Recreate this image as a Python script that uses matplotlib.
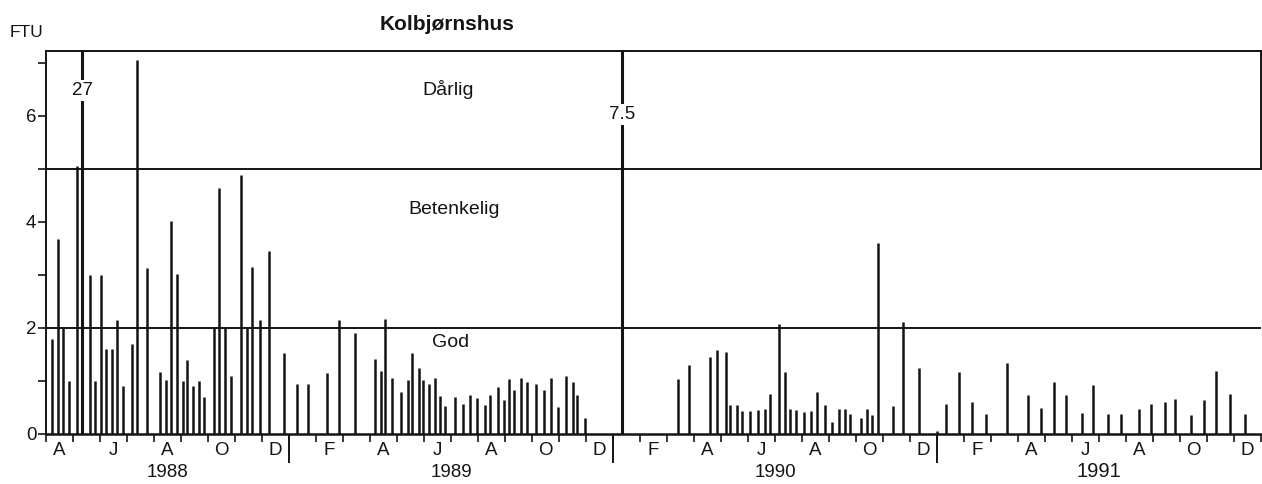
import numpy as np
import matplotlib
matplotlib.use("Agg")
import matplotlib.pyplot as plt

plt.rcParams['font.family'] = ['Liberation Sans', 'DejaVu Sans']

# sampling position = months since 1 Jan of that year (fractional), value in FTU
years = [1988, 1989, 1990, 1991]

pos_1988 = [3.22, 3.46, 3.62, 3.84, 4.16, 4.34, 4.63, 4.82, 5.04, 5.23, 5.43, 5.64,
            5.85, 6.18, 6.37, 6.75, 7.23, 7.45, 7.62, 7.84, 8.06, 8.24, 8.44, 8.66,
            8.86, 9.24, 9.41, 9.64, 9.87, 10.21, 10.45, 10.64, 10.92, 11.26, 11.80]
ftu_1988 = [1.8, 3.67, 2.0, 1.0, 5.05, 27, 3.0, 1.0, 3.0, 1.6, 1.6, 2.15,
            0.9, 1.7, 7.05, 3.12, 1.16, 1.02, 4.01, 3.02, 1.0, 1.4, 0.9, 1.0,
            0.7, 2.0, 4.63, 2.0, 1.1, 4.88, 2.0, 3.14, 2.15, 3.45, 1.52]

pos_1989 = [0.30, 0.69, 1.39, 1.84, 2.46, 3.17, 3.40, 3.57, 3.81, 4.16, 4.39, 4.56,
            4.80, 4.98, 5.19, 5.40, 5.61, 5.79, 6.15, 6.43, 6.70, 6.95, 7.26, 7.46,
            7.75, 7.95, 8.14, 8.35, 8.61, 8.81, 9.16, 9.43, 9.72, 9.98, 10.27, 10.50,
            10.68, 10.95]
ftu_1989 = [0.94, 0.95, 1.15, 2.15, 1.9, 1.42, 1.18, 2.16, 1.05, 0.8, 1.02, 1.52,
            1.24, 1.02, 0.95, 1.05, 0.72, 0.53, 0.7, 0.56, 0.74, 0.67, 0.55, 0.73,
            0.88, 0.64, 1.03, 0.83, 1.06, 0.98, 0.95, 0.83, 1.06, 0.51, 1.1, 0.98,
            0.74, 0.31]

pos_1990 = [0.32, 2.40, 2.82, 3.59, 3.87, 4.17, 4.35, 4.59, 4.77, 5.09, 5.36, 5.64,
            5.82, 6.15, 6.36, 6.55, 6.76, 7.06, 7.32, 7.57, 7.84, 8.10, 8.36, 8.61,
            8.79, 9.17, 9.39, 9.60, 9.82, 10.37, 10.74, 11.34, 11.99]
ftu_1990 = [7.5, 1.03, 1.31, 1.45, 1.58, 1.54, 0.55, 0.54, 0.43, 0.43, 0.45, 0.47,
            0.76, 2.07, 1.17, 0.48, 0.45, 0.41, 0.43, 0.8, 0.54, 0.22, 0.47, 0.48,
            0.38, 0.31, 0.48, 0.35, 3.6, 0.53, 2.12, 1.24, 0.05]

pos_1991 = [0.32, 0.82, 1.30, 1.80, 2.59, 3.37, 3.85, 4.33, 4.76, 5.37, 5.78, 6.34,
            6.80, 7.48, 7.92, 8.43, 8.82, 9.39, 9.89, 10.35, 10.85, 11.40]
ftu_1991 = [0.57, 1.17, 0.6, 0.38, 1.34, 0.73, 0.49, 0.98, 0.74, 0.39, 0.92, 0.38,
            0.38, 0.47, 0.56, 0.6, 0.66, 0.35, 0.64, 1.18, 0.75, 0.38]

month_letters = ['J', 'F', 'M', 'A', 'M', 'J', 'J', 'A', 'S', 'O', 'N', 'D']
labelled_months = [2, 4, 6, 8, 10, 12]
limits = [2, 5]
zone_names = ['God', 'Betenkelig', 'Dårlig']

ink = '#141414'

positions = [pos_1988, pos_1989, pos_1990, pos_1991]
values = [ftu_1988, ftu_1989, ftu_1990, ftu_1991]
x = np.concatenate([np.array(p) + 12 * (yr - years[0]) for p, yr in zip(positions, years)])
v = np.concatenate([np.array(f, dtype=float) for f in values])

W, H = 1262, 484
fig = plt.figure(figsize=(W / 100, H / 100), dpi=100)
ax = fig.add_axes([46 / W, 1 - 434 / H, (1261 - 46) / W, (434 - 51) / H])
xmin, xmax, ytop = 3, 48, 7.22
ax.set_xlim(xmin, xmax)
ax.set_ylim(0, ytop)

over = v > ytop
ax.vlines(x[~over], 0, v[~over], color=ink, lw=1.8)
ax.vlines(x[over], 0, v[over], color=ink, lw=2.2)
for lim in limits:
    ax.axhline(lim, color=ink, lw=1.4)

# values above the axis are written on the bar
for xi, vi in zip(x[over], v[over]):
    ax.text(xi, ytop - 0.75 - (0.45 if vi < 10 else 0), f'{vi:g}', ha='center', va='center',
            fontsize=13.5, color=ink,
            bbox=dict(facecolor='white', edgecolor='none', pad=1.5))

# zone labels
ax.text(18.0, 1.73, zone_names[0], ha='center', va='center', fontsize=14, color=ink)
ax.text(18.1, 4.23, zone_names[1], ha='center', va='center', fontsize=14, color=ink)
ax.text(17.9, 6.5, zone_names[2], ha='center', va='center', fontsize=14, color=ink)

for s in ['left', 'top', 'bottom', 'right']:
    ax.spines[s].set_color(ink)
    ax.spines[s].set_linewidth(1.4)
ax.spines['bottom'].set_linewidth(1.8)
ax.spines['right'].set_bounds(limits[1], ytop)

ax.set_yticks(range(0, 8))
ax.set_yticklabels([str(t) if t % 2 == 0 else '' for t in range(0, 8)])
ax.tick_params(axis='y', direction='out', length=6, width=1.2, labelsize=13.5, pad=1, colors=ink)

ax.set_xticks([])
ax.set_xticks(np.arange(xmin, xmax + 1), minor=True)
ax.tick_params(axis='x', which='minor', direction='out', length=6, width=1.2, colors=ink)

trans = ax.get_xaxis_transform()
bounds = [12 * (yr - years[0]) for yr in years[1:]]
ax.vlines(bounds, -0.075, 0, transform=trans, clip_on=False, color=ink, lw=1.4)

for yr in years:
    off = 12 * (yr - years[0])
    for m in labelled_months:
        mx = off + m - 0.5
        if xmin < mx < xmax:
            ax.text(mx, -0.042, month_letters[m - 1], transform=trans, ha='center', va='center',
                    fontsize=13.5, color=ink)
    lo, hi = max(off, xmin), min(off + 12, xmax)
    big = yr == years[-1]
    ax.text((lo + hi) / 2, -0.099 if big else -0.101, str(yr), transform=trans,
            ha='center', va='center', fontsize=14.5 if big else 13.5, color=ink)

fig.text(447 / W, 1 - 24 / H, 'Kolbjørnshus', ha='center', va='center', fontsize=15,
         fontweight='bold', color=ink)
fig.text(10 / W, 1 - 33 / H, 'FTU', ha='left', va='center', fontsize=12.5, color=ink)

fig.savefig('out.png', dpi=100)
